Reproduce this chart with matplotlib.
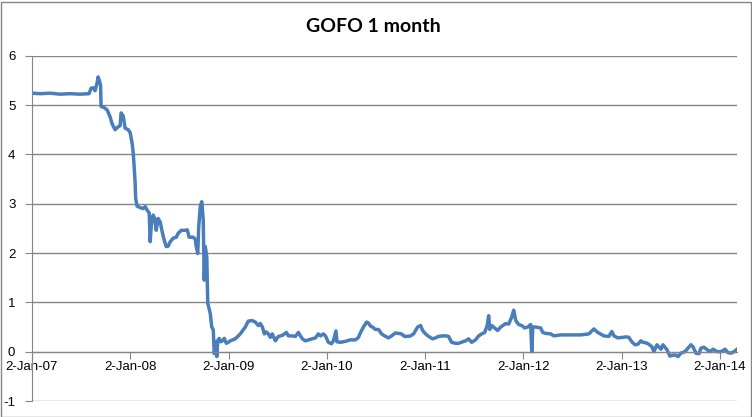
import numpy as np
import pandas as pd
import matplotlib
matplotlib.use("Agg")
import matplotlib.pyplot as plt
from matplotlib.patches import Rectangle

plt.rcParams["axes.unicode_minus"] = False

# GOFO 1 month rate (time as decimal year, 2007.0 = 2-Jan-07)
t_year = [
    2007.000, 2007.082, 2007.183, 2007.285, 2007.387, 2007.489, 2007.581, 2007.601, 2007.622, 2007.642,
    2007.663, 2007.673, 2007.688, 2007.698, 2007.703, 2007.734, 2007.765, 2007.795, 2007.815, 2007.846,
    2007.877, 2007.897, 2007.907, 2007.928, 2007.948, 2007.979, 2007.999, 2008.019, 2008.030, 2008.040,
    2008.050, 2008.055, 2008.070, 2008.101, 2008.131, 2008.152, 2008.172, 2008.193, 2008.203, 2008.213,
    2008.233, 2008.254, 2008.264, 2008.284, 2008.305, 2008.325, 2008.346, 2008.366, 2008.386, 2008.407,
    2008.437, 2008.468, 2008.488, 2008.519, 2008.560, 2008.580, 2008.600, 2008.641, 2008.662, 2008.672,
    2008.687, 2008.697, 2008.713, 2008.728, 2008.743, 2008.753, 2008.764, 2008.779, 2008.789, 2008.799,
    2008.814, 2008.830, 2008.845, 2008.855, 2008.871, 2008.881, 2008.891, 2008.906, 2008.921, 2008.937,
    2008.957, 2008.978, 2008.998, 2009.018, 2009.069, 2009.120, 2009.171, 2009.202, 2009.243, 2009.273,
    2009.304, 2009.324, 2009.345, 2009.365, 2009.385, 2009.406, 2009.426, 2009.446, 2009.477, 2009.508,
    2009.548, 2009.589, 2009.610, 2009.650, 2009.681, 2009.712, 2009.732, 2009.752, 2009.783, 2009.834,
    2009.885, 2009.915, 2009.936, 2009.966, 2009.987, 2010.017, 2010.048, 2010.068, 2010.094, 2010.104,
    2010.140, 2010.191, 2010.242, 2010.293, 2010.323, 2010.344, 2010.374, 2010.405, 2010.425, 2010.445,
    2010.466, 2010.496, 2010.527, 2010.558, 2010.598, 2010.629, 2010.660, 2010.700, 2010.731, 2010.761,
    2010.792, 2010.823, 2010.853, 2010.884, 2010.925, 2010.955, 2010.976, 2011.006, 2011.037, 2011.077,
    2011.108, 2011.139, 2011.179, 2011.210, 2011.240, 2011.271, 2011.312, 2011.343, 2011.383, 2011.414,
    2011.444, 2011.475, 2011.516, 2011.546, 2011.577, 2011.608, 2011.633, 2011.648, 2011.659, 2011.679,
    2011.709, 2011.740, 2011.771, 2011.822, 2011.852, 2011.883, 2011.903, 2011.924, 2011.954, 2011.985,
    2012.015, 2012.046, 2012.076, 2012.087, 2012.097, 2012.127, 2012.178, 2012.199, 2012.229, 2012.280,
    2012.311, 2012.382, 2012.484, 2012.586, 2012.668, 2012.719, 2012.759, 2012.821, 2012.872, 2012.902,
    2012.923, 2012.963, 2013.014, 2013.045, 2013.075, 2013.106, 2013.137, 2013.167, 2013.198, 2013.218,
    2013.249, 2013.279, 2013.310, 2013.330, 2013.361, 2013.402, 2013.422, 2013.463, 2013.493, 2013.524,
    2013.555, 2013.575, 2013.605, 2013.646, 2013.677, 2013.707, 2013.728, 2013.758, 2013.789, 2013.809,
    2013.840, 2013.871, 2013.901, 2013.932, 2013.973, 2014.013, 2014.054, 2014.085, 2014.115, 2014.146,
    2014.176,
]
gofo = [
    5.24, 5.23, 5.24, 5.22, 5.23, 5.22, 5.23, 5.34, 5.35, 5.29,
    5.45, 5.57, 5.48, 5.40, 4.97, 4.95, 4.90, 4.76, 4.62, 4.50,
    4.56, 4.58, 4.84, 4.78, 4.53, 4.50, 4.44, 4.23, 4.03, 3.75,
    3.42, 3.11, 2.95, 2.92, 2.90, 2.94, 2.87, 2.81, 2.23, 2.53,
    2.77, 2.67, 2.46, 2.70, 2.63, 2.43, 2.26, 2.13, 2.14, 2.23,
    2.30, 2.32, 2.40, 2.46, 2.46, 2.47, 2.32, 2.32, 2.28, 2.13,
    1.99, 2.53, 2.95, 3.04, 2.67, 1.45, 2.13, 1.92, 0.98, 0.90,
    0.78, 0.50, 0.44, -0.04, 0.20, -0.10, 0.23, 0.27, 0.20, 0.22,
    0.27, 0.17, 0.19, 0.22, 0.26, 0.36, 0.50, 0.62, 0.63, 0.60,
    0.53, 0.57, 0.50, 0.36, 0.40, 0.36, 0.29, 0.36, 0.22, 0.31,
    0.33, 0.39, 0.32, 0.32, 0.31, 0.39, 0.32, 0.26, 0.22, 0.25,
    0.28, 0.36, 0.32, 0.36, 0.32, 0.19, 0.16, 0.22, 0.42, 0.20,
    0.19, 0.21, 0.24, 0.24, 0.29, 0.39, 0.50, 0.60, 0.58, 0.52,
    0.50, 0.45, 0.45, 0.36, 0.31, 0.28, 0.32, 0.38, 0.37, 0.36,
    0.31, 0.31, 0.32, 0.36, 0.50, 0.53, 0.43, 0.36, 0.31, 0.26,
    0.28, 0.31, 0.32, 0.32, 0.31, 0.19, 0.17, 0.17, 0.20, 0.22,
    0.26, 0.19, 0.24, 0.32, 0.36, 0.39, 0.53, 0.73, 0.45, 0.53,
    0.48, 0.43, 0.50, 0.57, 0.56, 0.70, 0.84, 0.63, 0.55, 0.53,
    0.48, 0.50, 0.55, 0.00, 0.50, 0.50, 0.48, 0.39, 0.37, 0.36,
    0.32, 0.34, 0.34, 0.34, 0.36, 0.46, 0.39, 0.32, 0.31, 0.41,
    0.32, 0.28, 0.29, 0.30, 0.29, 0.20, 0.14, 0.15, 0.22, 0.19,
    0.18, 0.15, 0.10, 0.00, 0.14, 0.05, 0.14, 0.04, -0.09, -0.07,
    -0.07, -0.10, -0.03, 0.00, 0.07, 0.14, 0.10, -0.03, -0.04, 0.07,
    0.09, 0.04, 0.00, 0.05, 0.00, 0.00, 0.05, -0.02, -0.03, 0.00,
    0.05,
]
tick_years = [2007, 2008, 2009, 2010, 2011, 2012, 2013, 2014]
tick_labels = ["2-Jan-07", "2-Jan-08", "2-Jan-09", "2-Jan-10",
               "2-Jan-11", "2-Jan-12", "2-Jan-13", "2-Jan-14"]
y_ticks = [-1, 0, 1, 2, 3, 4, 5, 6]

start = pd.Timestamp("2007-01-02")
dates = start + pd.to_timedelta((np.array(t_year) - 2007) * 365.25, unit="D")
tick_dates = [pd.Timestamp(f"{y}-01-02") for y in tick_years]

grey = "#868686"

fig = plt.figure(figsize=(7.52, 4.17), dpi=100)
ax = fig.add_axes([32 / 752, 1 - 401 / 417, (737 - 32) / 752, (401 - 55.7) / 417])

ax.plot(dates, gofo, color="#4A7EBB", lw=2.5, solid_joinstyle="round")

ax.set_xlim(dates[0], dates[-1])
ax.set_ylim(-1, 6)
ax.set_yticks(y_ticks)
ax.set_xticks(tick_dates)
ax.set_xticklabels(tick_labels)

ax.grid(axis="y", color=grey, lw=1)
ax.set_axisbelow(True)

for s in ["top", "right"]:
    ax.spines[s].set_visible(False)
ax.spines["bottom"].set_position(("data", 0))
ax.spines["bottom"].set_color(grey)
ax.spines["left"].set_color(grey)

ax.tick_params(axis="x", direction="out", length=5, color=grey, labelsize=9.5, pad=2)
ax.tick_params(axis="y", direction="out", length=5, color=grey, labelsize=9.5, pad=7)
for lab in ax.get_xticklabels() + ax.get_yticklabels():
    lab.set_fontfamily("Liberation Sans")

fig.text(0.497, 1 - 27 / 417, "GOFO 1 month", ha="center", va="center",
         fontsize=14, fontweight="bold", family="Lato")

# chart area border
fig.patches.append(Rectangle((0.5 / 752, 0.5 / 417), 750 / 752, 415 / 417,
                             transform=fig.transFigure, fill=False,
                             edgecolor=grey, lw=1))

fig.savefig("out.png", dpi=100)
